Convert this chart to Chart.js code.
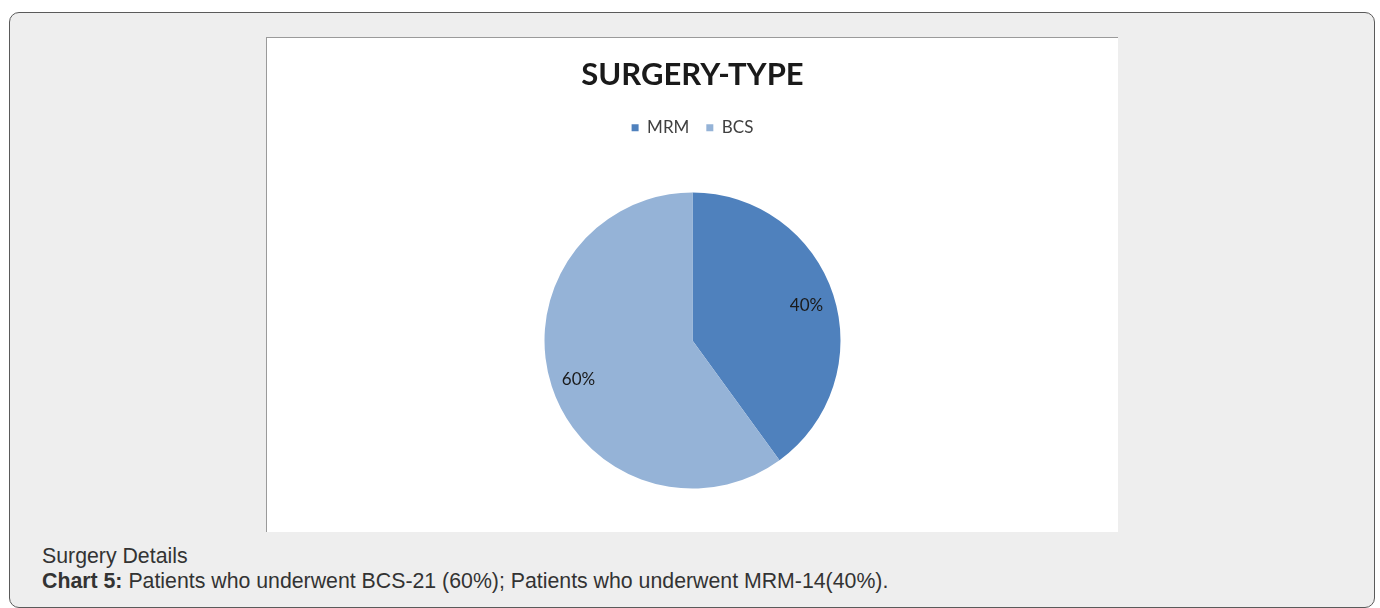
<!DOCTYPE html>
<html>
<head>
<meta charset="utf-8">
<script src="https://cdn.jsdelivr.net/npm/chart.js@4/dist/chart.umd.min.js"></script>
<style>
  html, body { margin: 0; padding: 0; background: #ffffff; }
  body { width: 1380px; height: 608px; position: relative; overflow: hidden; }
  .panel {
    position: absolute; left: 9px; top: 12px; width: 1366px; height: 596px;
    box-sizing: border-box; border: 1px solid #5a5a5a; border-radius: 10px;
    background: #eeeeee;
  }
  .figure {
    position: absolute; left: 266px; top: 37px; width: 852px; height: 495px;
    box-sizing: border-box; background: #ffffff; overflow: hidden;
    border-left: 1px solid #9a9a9a; border-top: 1px solid #9a9a9a;
  }
  .figure canvas { display: block; }
  .caption {
    position: absolute; left: 42px; top: 544px;
    font-family: "Liberation Sans", Arial, sans-serif; font-size: 21.3px;
    line-height: 25px; color: #333333;
  }
</style>
</head>
<body>
<div class="panel"></div>
<div class="figure"><canvas id="surgeryChart" width="851" height="497"></canvas></div>
<div class="caption">
  Surgery Details<br>
  <b>Chart 5:</b> Patients who underwent BCS-21 (60%); Patients who underwent MRM-14(40%).
</div>
<script>
const categories    = ['MRM', 'BCS'];
const patientCounts = [14, 21];
const sliceColors   = ['#4f81bd', '#95b3d7'];
const chartTitle    = 'SURGERY-TYPE';

const FONT = 'Lato, "Open Sans", sans-serif';

// percent labels drawn inside each slice, Excel style
const sliceLabels = {
  id: 'sliceLabels',
  afterDatasetsDraw(chart) {
    const { ctx } = chart;
    const meta  = chart.getDatasetMeta(0);
    const total = patientCounts.reduce((a, b) => a + b, 0);
    ctx.save();
    ctx.font = '17px ' + FONT;
    ctx.fillStyle = '#1a1a1a';
    ctx.textAlign = 'center';
    ctx.textBaseline = 'middle';
    meta.data.forEach((arc, i) => {
      const p   = arc.getProps(['x', 'y', 'startAngle', 'endAngle', 'outerRadius'], true);
      const mid = (p.startAngle + p.endAngle) / 2;
      const r   = p.outerRadius * 0.81;
      const pct = Math.round(patientCounts[i] / total * 100) + '%';
      ctx.fillText(pct, p.x + Math.cos(mid) * r, p.y + Math.sin(mid) * r + 2);
    });
    ctx.restore();
  },
};

new Chart(document.getElementById('surgeryChart'), {
  type: 'pie',
  data: {
    labels: categories,
    datasets: [{
      data: patientCounts,
      backgroundColor: sliceColors,
      borderWidth: 0,
      radius: 148,
    }],
  },
  options: {
    responsive: false,
    animation: false,
    layout: { padding: 0 },
    plugins: {
      title: {
        display: true,
        text: chartTitle,
        color: '#1a1a1a',
        font: { family: FONT, size: 31, weight: 'bold' },
        padding: { top: 18, bottom: 9 },
      },
      legend: {
        position: 'top',
        labels: {
          color: '#404040',
          font: { family: FONT, size: 17 },
          boxWidth: 7,
          boxHeight: 7,
          padding: 17,
        },
      },
      tooltip: { enabled: false },
    },
  },
  plugins: [sliceLabels],
});
</script>
</body>
</html>
